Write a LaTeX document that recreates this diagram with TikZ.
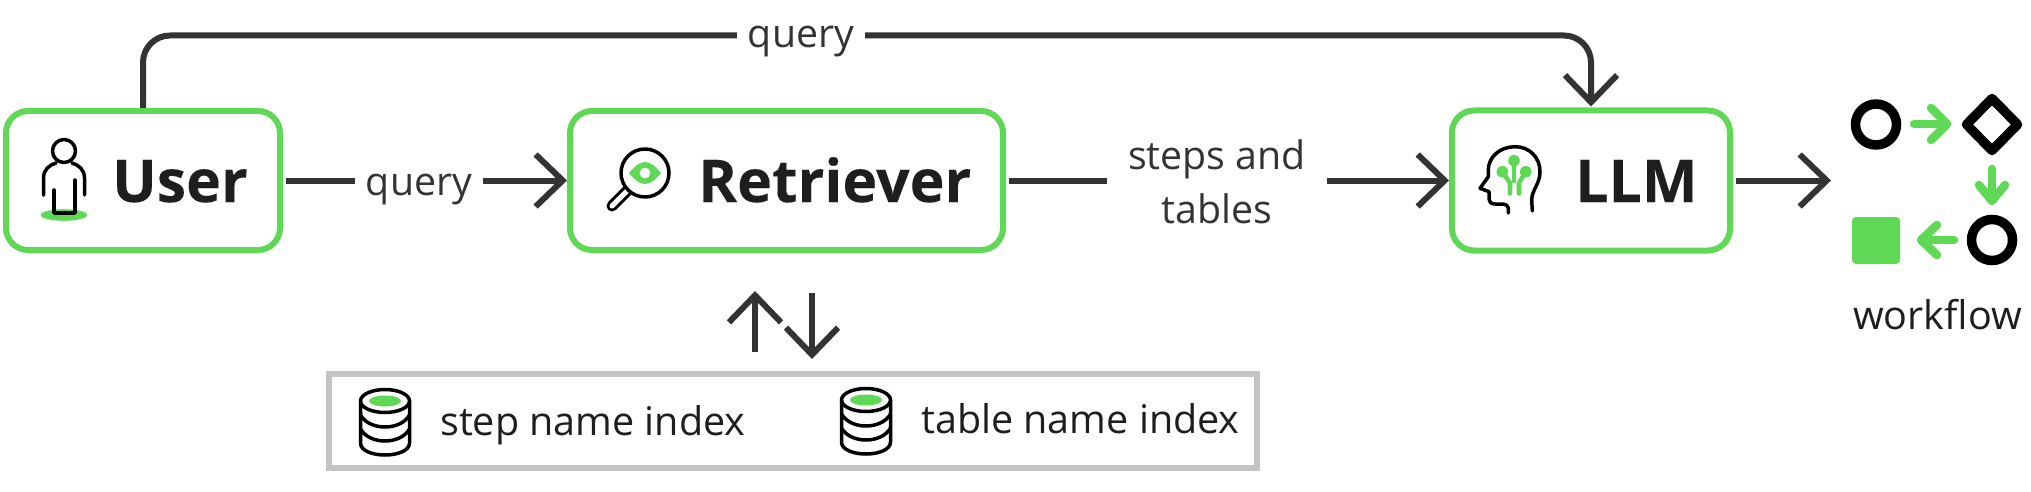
\documentclass[tikz,border=0pt]{standalone}
\usepackage{fontspec}
\setmainfont{Open Sans}
\newfontfamily\heavyfont[FakeBold=0.12]{Open Sans Bold}
\usetikzlibrary{arrows.meta,calc}
\definecolor{grn}{HTML}{5FD855}
\definecolor{ink}{HTML}{333333}
\definecolor{txt}{HTML}{1E1E1E}
\definecolor{gry}{HTML}{C4C4C4}
\tikzset{
  box/.style={draw=grn,line width=6pt,rounded corners=22pt,fill=white,inner sep=0pt},
  title/.style={anchor=base west,inner sep=0pt,text=txt,font=\fontsize{59}{72}\selectfont},
  lbl/.style={fill=white,text=ink,inner sep=0pt,align=center,font=\fontsize{39.3}{54}\selectfont},
  plain/.style={anchor=base west,inner sep=0pt,text=txt,font=\fontsize{39.5}{48}\selectfont},
  conn/.style={draw=ink,line width=6pt},
  tip/.style={conn,-{Straight Barb[length=27pt,width=52pt,line width=6pt]}},
  icon/.style={draw=black,line width=3.5pt,line cap=round,line join=round},
  gline/.style={draw=grn,line width=4.6pt,line cap=round,line join=round},
  garrow/.style={draw=grn,line width=8.5pt,line cap=round,line join=round},
  wf/.style={draw=black,line width=9.5pt,line join=round},
  dbicon/.pic={
    \path[fill=grn] (0,0) ellipse [x radius=16,y radius=5.5];
    \draw[icon] (0,0) ellipse [x radius=24.5,y radius=11.5];
    \draw[icon] (-24.5,0) -- (-24.5,42) .. controls (-24.5,50) and (-12,54) .. (0,54) .. controls (12,54) and (24.5,50) .. (24.5,42) -- (24.5,0);
    \draw[icon] (-24.5,14) .. controls (-20,22) and (-10,26) .. (0,26) .. controls (10,26) and (20,22) .. (24.5,14);
    \draw[icon] (-24.5,28) .. controls (-20,36) and (-10,40) .. (0,40) .. controls (10,40) and (20,36) .. (24.5,28);
  }
}
\begin{document}
\begin{tikzpicture}[x=1pt,y=-1pt]
\useasboundingbox (0,0) rectangle (2031,492);
% boxes
\node[box,minimum width=274pt,minimum height=139pt] (user) at (143,180.5) {};
\node[box,minimum width=433pt,minimum height=139pt] (retr) at (786.5,180.5) {};
\node[box,minimum width=278pt,minimum height=140pt] (llm) at (1591,180.5) {};
\node[draw=gry,line width=6pt,inner sep=0pt,minimum width=928pt,minimum height=94pt] (idx) at (793,421) {};
% titles
\node[title] (tuser) at (112,202) {\heavyfont User};
\node[title] (tretr) at (698,202) {\heavyfont Retriever};
\node[title] (tllm) at (1575,202) {\heavyfont LLM};
% connectors
\coordinate (topy) at (800,35.5);
\draw[tip,rounded corners=27pt,shorten >=1pt] (user.north) -- (user.north |- topy) -| (llm.north);
\node[lbl] (q1) at (801,42) {\hspace{11pt}query\hspace{11pt}};
\draw[tip,shorten <=3pt] (user.east) -- (retr.west);
\node[lbl] (q2) at (419,190) {\hspace{11pt}query\hspace{11pt}};
\draw[tip,shorten <=3pt] (retr.east) -- (llm.west);
\node[lbl] (st) at (1217,181.5) {\hspace*{21pt}steps and\hspace*{21pt}\\tables};
\coordinate (outend) at (1831,180.5);
\draw[tip,shorten <=3pt] (llm.east) -- (outend);
\coordinate (ua) at (755,352); \coordinate (ub) at (755,291);
\coordinate (da) at (812,293); \coordinate (db) at (812,359);
\draw[tip] (ua) -- (ub);
\draw[tip] (da) -- (db);
% user icon
\path[fill=grn] (64,215) ellipse [x radius=23.5,y radius=5.8];
\draw[icon] (64,151) circle (11.5);
\draw[icon] (43.5,195) -- (43.5,178) .. controls (43.5,170) and (49,165) .. (56,163);
\draw[icon] (84.5,195) -- (84.5,178) .. controls (84.5,170) and (79,165) .. (72,163);
\draw[icon] (54,190) -- (54,213) -- (75,213) -- (75,180);
% retriever icon
\draw[draw=black,line width=11pt,line cap=round] (629,189) -- (612,206);
\draw[draw=white,line width=5pt,line cap=round] (629,189) -- (612,206);
\draw[icon,fill=white] (645,173) circle (24);
\path[fill=grn,even odd rule] (629,173) .. controls (634,167) and (639,162) .. (645,162) .. controls (651,162) and (656,167) .. (661,173) .. controls (656,179) and (651,184) .. (645,184) .. controls (639,184) and (634,179) .. (629,173) -- cycle (645,173) circle (5.5);
% llm icon
\draw[icon] (1508.3,213) -- (1508.3,208) .. controls (1508,206) and (1506,204) .. (1503.3,204) -- (1495,204) .. controls (1491,204) and (1489,202) .. (1489,199) -- (1489,191.7) -- (1480,188.3) -- (1488.3,176.7) -- (1488.3,170) .. controls (1488.3,157) and (1500,146.7) .. (1515,146.7) .. controls (1530,146.7) and (1540,158) .. (1540,171.7) .. controls (1540,184) and (1531.7,190) .. (1531.7,200) -- (1532.3,211);
\path[fill=grn] (1514,160.7) circle (5.8) (1502.3,171.7) circle (5.8) (1525.7,171.7) circle (5.8);
\draw[gline] (1514,160.7) -- (1514,181);
\draw[gline] (1502.3,171.7) -- (1510,183) -- (1510,193.5);
\draw[gline] (1525.7,171.7) -- (1519,183) -- (1519,193.5);
% index box content
\pic at (385,401) {dbicon};
\pic at (866,400) {dbicon};
\node[plain] (s1) at (440,435) {step name index};
\node[plain] (s2) at (921,433) {table name index};
% workflow
\draw[wf] (1876,124.5) circle (20.5);
\draw[wf] (1992,98.5) -- (2017.5,124.5) -- (1992,150.5) -- (1966.5,124.5) -- cycle;
\draw[wf] (1992,240) circle (20.5);
\path[fill=grn,rounded corners=4pt] (1852,217) rectangle (1900,264);
\draw[garrow] (1914,124) -- (1946,124);
\draw[garrow] (1931,108) -- (1947,124) -- (1931,140);
\draw[garrow] (1992,169) -- (1992,200);
\draw[garrow] (1979,185) -- (1992,201) -- (2005,185);
\draw[garrow] (1954,240) -- (1922,240);
\draw[garrow] (1937,225) -- (1921,240) -- (1937,255);
\node[plain] (wl) at (1853,329) {workflow};
\end{tikzpicture}
\end{document}
